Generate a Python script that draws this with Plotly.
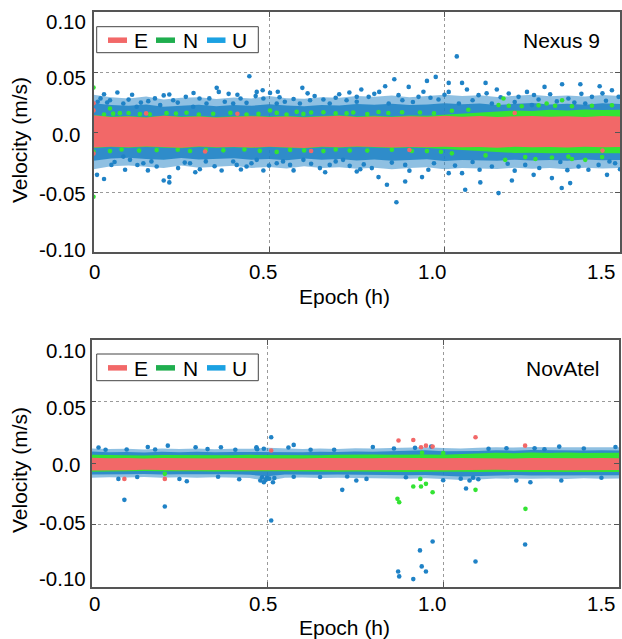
import plotly.graph_objects as go

# ---------------------------------------------------------------------------
# Velocity residuals (m/s) of the E / N / U components over a 1.5 h session.
# The dense core of every component is given as upper / lower envelopes
# sampled along the epoch axis (an inner, nearly saturated core and, for U,
# a sparser outer halo); scattered samples outside are listed individually
# as (epoch h, velocity m/s).
# ---------------------------------------------------------------------------

env_epoch = [0.0, 0.05, 0.1, 0.15, 0.2, 0.25, 0.3, 0.35, 0.4, 0.45, 0.5,
             0.55, 0.6, 0.65, 0.7, 0.75, 0.8, 0.85, 0.9, 0.95, 1.0,
             1.05, 1.1, 1.15, 1.2, 1.25, 1.3, 1.35, 1.4, 1.45, 1.5]

# ---- Nexus 9 --------------------------------------------------------------
nexus_E_hi = [0.014, 0.0125, 0.013, 0.012, 0.0135, 0.0125, 0.013, 0.012, 0.0128, 0.0132, 0.0125,
              0.013, 0.0122, 0.0128, 0.0135, 0.0126, 0.013, 0.0124, 0.0132, 0.0127, 0.0135,
              0.0128, 0.0133, 0.0126, 0.013, 0.0134, 0.0127, 0.0131, 0.0125, 0.0133, 0.013]
nexus_E_lo = [-0.013, -0.0122, -0.0128, -0.012, -0.0126, -0.0131, -0.0121, -0.0127, -0.0124, -0.013, -0.0122,
              -0.0127, -0.0133, -0.0123, -0.0128, -0.0121, -0.0126, -0.013, -0.0124, -0.0128, -0.0122,
              -0.0127, -0.0125, -0.0131, -0.0123, -0.0128, -0.0124, -0.013, -0.0122, -0.0127, -0.0125]
nexus_N_hi = [0.0142, 0.013, 0.0134, 0.0124, 0.0138, 0.0129, 0.0134, 0.0124, 0.0132, 0.0136, 0.013,
              0.0134, 0.0127, 0.0132, 0.0139, 0.013, 0.0135, 0.0129, 0.0138, 0.0135, 0.0145,
              0.015, 0.016, 0.017, 0.018, 0.0176, 0.0185, 0.018, 0.0188, 0.0183, 0.0186]
nexus_N_lo = [-0.0134, -0.0126, -0.0132, -0.0124, -0.013, -0.0135, -0.0125, -0.0131, -0.0128, -0.0134, -0.0126,
              -0.0131, -0.0137, -0.0127, -0.0132, -0.0125, -0.013, -0.0134, -0.0129, -0.0134, -0.014,
              -0.0148, -0.0158, -0.0166, -0.0175, -0.0172, -0.0178, -0.0174, -0.018, -0.0176, -0.0178]
nexus_U_hi = [0.024, 0.0225, 0.0218, 0.023, 0.021, 0.022, 0.0228, 0.0215, 0.0225, 0.0218, 0.0232,
              0.022, 0.0215, 0.0226, 0.022, 0.0234, 0.0228, 0.0236, 0.0224, 0.023, 0.024,
              0.0232, 0.0238, 0.0226, 0.0234, 0.0242, 0.023, 0.0236, 0.0228, 0.024, 0.0234]
nexus_U_lo = [-0.024, -0.022, -0.0215, -0.0226, -0.0232, -0.0216, -0.023, -0.0222, -0.0218, -0.0231, -0.0225,
              -0.0235, -0.022, -0.0232, -0.0226, -0.0237, -0.023, -0.024, -0.0233, -0.0227, -0.0241,
              -0.0233, -0.0235, -0.0239, -0.0231, -0.0237, -0.0233, -0.024, -0.023, -0.0235, -0.0233]
nexus_U_hi_halo = [0.031, 0.029, 0.028, 0.0295, 0.027, 0.0285, 0.029, 0.0275, 0.0288, 0.028, 0.03,
                   0.0282, 0.0278, 0.029, 0.0285, 0.03, 0.0294, 0.0305, 0.029, 0.0298, 0.031,
                   0.03, 0.0306, 0.0292, 0.0302, 0.031, 0.0298, 0.0304, 0.0295, 0.0308, 0.03]
nexus_U_lo_halo = [-0.031, -0.0285, -0.028, -0.029, -0.03, -0.028, -0.0298, -0.029, -0.0282, -0.03, -0.0292,
                   -0.0304, -0.0286, -0.03, -0.0294, -0.0306, -0.0298, -0.031, -0.03, -0.0294, -0.031,
                   -0.03, -0.0304, -0.0308, -0.0298, -0.0306, -0.03, -0.031, -0.0298, -0.0304, -0.03]

nexus_U_pts = [
    (0.444, 0.0464), (0.351, 0.0368), (0.357, 0.0334), (0.068, 0.0329), (0.216, 0.0312), (0.263, 0.0293),
    (0.302, 0.0279), (0.419, 0.0279), (0.465, 0.0334), (0.482, 0.0348), (0.462, 0.0299), (0.503, 0.0326),
    (0.595, 0.0368), (0.729, 0.0329), (0.655, 0.0271), (0.156, 0.0257), (0.039, 0.0246), (0.012, 0.0252),
    (0.085, 0.0238), (0.047, 0.0265), (0.123, 0.021), (0.19, 0.0224), (0.227, 0.0265), (0.284, 0.021),
    (0.322, 0.0238), (0.374, 0.0252), (0.398, 0.0238), (0.436, 0.0243), (0.484, 0.0279), (0.522, 0.0238),
    (0.545, 0.0252), (0.588, 0.0238), (0.617, 0.0265), (0.673, 0.0238), (0.721, 0.0265), (0.75, 0.0293),
    (1.035, 0.063), (0.975, 0.0459), (0.857, 0.044), (0.95, 0.0426), (0.831, 0.0381), (1.012, 0.0409),
    (1.05, 0.0409), (1.117, 0.0409), (1.335, 0.0398), (1.387, 0.0398), (1.442, 0.0381), (0.763, 0.0354),
    (0.814, 0.0334), (0.898, 0.0376), (1.012, 0.0334), (1.064, 0.0354), (1.149, 0.0354), (1.235, 0.0334),
    (1.285, 0.0376), (1.301, 0.0315), (1.477, 0.0348), (0.784, 0.0293), (0.869, 0.0307), (0.926, 0.0293),
    (0.983, 0.0271), (1.097, 0.0307), (1.183, 0.0321), (1.211, 0.0293), (1.268, 0.0271), (1.353, 0.0279),
    (1.42, 0.0293), (1.496, 0.0293), (0.75, 0.0252), (0.841, 0.0238), (1.041, 0.0238), (1.135, 0.0238),
    (1.249, 0.0224), (1.401, 0.0238), (0.02, 0.028), (0.1, 0.027), (0.135, 0.0245), (0.175, 0.028),
    (0.24, 0.0245), (0.33, 0.028), (0.41, 0.031), (0.53, 0.029), (0.57, 0.0275), (0.63, 0.03),
    (0.69, 0.0285), (0.88, 0.0265), (0.91, 0.025), (0.96, 0.0285), (1.08, 0.0265), (1.16, 0.029),
    (1.2, 0.025), (1.32, 0.0255), (1.37, 0.0245), (1.46, 0.026), (0.03, 0.0315), (0.11, 0.031),
    (0.2, 0.0305), (0.285, 0.0325), (0.385, 0.0318), (0.525, 0.0335), (0.61, 0.0322), (0.7, 0.0315),
    (0.8, 0.0318), (0.94, 0.0335), (1.0, 0.031), (1.12, 0.0322), (1.255, 0.0308), (1.39, 0.0318),
    (1.45, 0.0322),
    (0.01, -0.0357), (0.03, -0.0392), (0.051, -0.0274), (0.18, -0.0287), (0.2, -0.0404), (0.216, -0.042),
    (0.216, -0.0376), (0.241, -0.0301), (0.275, -0.026), (0.303, -0.031), (0.365, -0.0321), (0.408, -0.0274),
    (0.436, -0.0287), (0.465, -0.0232), (0.484, -0.0321), (0.522, -0.026), (0.56, -0.0274), (0.598, -0.0232),
    (0.645, -0.0301), (0.673, -0.0274), (0.711, -0.0232), (0.73, -0.0282), (0.104, -0.0232), (0.142, -0.026),
    (0.085, -0.0205), (0.398, -0.0246), (0.863, -0.0586), (1.154, -0.0509), (1.059, -0.0481), (0.836, -0.0439),
    (1.334, -0.0467), (1.358, -0.0426), (0.888, -0.0412), (0.812, -0.0376), (1.102, -0.042), (0.936, -0.0376),
    (1.012, -0.0343), (1.05, -0.0343), (1.254, -0.0357), (1.192, -0.0404), (1.306, -0.0384), (1.463, -0.0357),
    (0.75, -0.0329), (0.793, -0.0301), (0.888, -0.0274), (0.954, -0.0315), (1.135, -0.0287), (1.23, -0.0274),
    (1.382, -0.0287), (1.439, -0.0274), (1.486, -0.026), (0.06, -0.025), (0.125, -0.0275), (0.165, -0.0245),
    (0.26, -0.0255), (0.32, -0.0245), (0.345, -0.0285), (0.45, -0.026), (0.5, -0.028), (0.54, -0.0245),
    (0.62, -0.0265), (0.69, -0.0245), (0.77, -0.027), (0.85, -0.0255), (0.97, -0.026), (1.03, -0.028),
    (1.08, -0.025), (1.18, -0.0265), (1.27, -0.03), (1.33, -0.025), (1.41, -0.0315), (1.47, -0.0245),
    (0.09, -0.0315), (0.155, -0.032), (0.29, -0.0335), (0.42, -0.0312), (0.57, -0.032), (0.66, -0.0335),
    (0.76, -0.031), (0.9, -0.0322), (1.1, -0.0315), (1.2, -0.0322), (1.35, -0.0318), (1.5, -0.031),
]
nexus_N_pts = [
    (0.0, 0.037), (0.0, -0.054), (0.047, 0.0196), (0.056, 0.0153), (0.132, 0.0149), (0.208, 0.0157),
    (0.265, 0.0161), (0.341, 0.0152), (0.436, 0.0146), (0.503, 0.0179), (0.522, 0.0159), (0.579, 0.0168),
    (0.598, 0.0151), (0.655, 0.0165), (0.721, 0.0155), (0.74, 0.0163), (0.0, -0.0162), (0.047, -0.0159),
    (0.18, -0.0151), (0.275, -0.0158), (0.474, -0.0157), (0.522, -0.0166), (0.56, -0.0149), (0.655, -0.0159),
    (0.73, -0.0154), (1.168, 0.0279), (1.154, 0.0224), (1.291, 0.0238), (1.335, 0.0265), (1.183, 0.0219),
    (1.22, 0.0215), (1.268, 0.0222), (1.315, 0.0219), (1.363, 0.0215), (1.42, 0.0219), (1.477, 0.0222),
    (1.021, 0.0177), (1.068, 0.0185), (0.879, 0.0165), (0.812, 0.0167), (1.173, -0.0232), (1.401, -0.0232),
    (1.23, -0.0209), (1.306, -0.0213), (1.353, -0.0205), (1.449, -0.0209), (1.117, -0.0195), (1.021, -0.0178),
    (0.907, -0.0158), (1.259, -0.0225), (1.363, -0.0225), (0.1, 0.0158), (0.37, -0.0153), (0.62, 0.0162),
    (0.03, 0.0145), (0.075, 0.0157), (0.16, 0.0148), (0.235, 0.0154), (0.3, 0.0146), (0.39, 0.0159),
    (0.47, 0.0151), (0.55, 0.0145), (0.69, 0.0156), (0.78, 0.0149), (0.84, 0.0158), (0.93, 0.0163),
    (0.97, 0.0156), (0.08, -0.0146), (0.13, -0.0155), (0.24, -0.0147), (0.32, -0.0151), (0.43, -0.0146),
    (0.6, -0.0154), (0.69, -0.0146), (0.78, -0.0155), (0.85, -0.0147), (0.95, -0.0159), (0.99, -0.0164),
]
nexus_E_pts = [
    (0.0, 0.024), (0.0, 0.018), (0.0, -0.018), (0.318, -0.0163), (0.15, 0.0155), (0.62, -0.0158),
    (1.45, -0.0155), (1.2, 0.0158), (0.9, -0.015), (0.41, 0.0152),
]

# ---- NovAtel --------------------------------------------------------------
novatel_E_hi = [0.0045, 0.004, 0.0042, 0.0038, 0.0043, 0.004, 0.0041, 0.0039, 0.0042, 0.004, 0.0044,
                0.0041, 0.0039, 0.0042, 0.004, 0.0043, 0.0041, 0.0045, 0.0042, 0.0044, 0.0041,
                0.0043, 0.004, 0.0042, 0.0039, 0.0043, 0.0041, 0.0044, 0.004, 0.0042, 0.0041]
novatel_E_lo = [-0.0058, -0.0054, -0.0056, -0.0052, -0.0055, -0.0057, -0.0053, -0.0056, -0.0054, -0.0057, -0.0055,
                -0.0053, -0.0056, -0.0054, -0.0057, -0.0055, -0.0058, -0.0054, -0.0056, -0.0055, -0.0057,
                -0.0054, -0.0056, -0.0053, -0.0055, -0.0057, -0.0054, -0.0056, -0.0055, -0.0057, -0.0055]
novatel_N_hi = [0.0068, 0.0064, 0.0066, 0.0062, 0.0067, 0.0065, 0.0063, 0.0066, 0.0064, 0.0068, 0.0066,
                0.0065, 0.0067, 0.0064, 0.0068, 0.0066, 0.007, 0.0068, 0.0072, 0.007, 0.0068,
                0.0075, 0.008, 0.0085, 0.0082, 0.0088, 0.0084, 0.0087, 0.0083, 0.0086, 0.0085]
novatel_N_lo = [-0.0068, -0.0064, -0.0066, -0.0063, -0.0065, -0.0067, -0.0064, -0.0066, -0.0063, -0.0067, -0.0065,
                -0.0064, -0.0066, -0.0065, -0.0068, -0.0066, -0.0069, -0.0067, -0.007, -0.0068, -0.0066,
                -0.0068, -0.007, -0.0072, -0.0069, -0.0071, -0.007, -0.0072, -0.0069, -0.0071, -0.007]
novatel_U_hi = [0.0095, 0.009, 0.0092, 0.0088, 0.0093, 0.009, 0.0094, 0.0089, 0.0092, 0.0091, 0.0096,
                0.0092, 0.009, 0.0094, 0.0091, 0.0095, 0.0093, 0.0098, 0.0102, 0.0105, 0.0098,
                0.0096, 0.01, 0.0105, 0.0102, 0.0107, 0.0104, 0.0106, 0.0103, 0.0105, 0.0104]
novatel_U_lo = [-0.0092, -0.0088, -0.009, -0.0087, -0.0091, -0.0089, -0.0092, -0.0088, -0.009, -0.0094, -0.0105,
                -0.0092, -0.009, -0.0093, -0.0091, -0.0094, -0.0092, -0.0096, -0.0098, -0.0095, -0.0102,
                -0.0108, -0.0106, -0.0098, -0.0096, -0.0099, -0.0097, -0.01, -0.0096, -0.0098, -0.0097]
novatel_U_hi_halo = [0.012, 0.0115, 0.0118, 0.0112, 0.0119, 0.0115, 0.012, 0.0114, 0.0118, 0.0117, 0.0125,
                     0.0118, 0.0115, 0.012, 0.0116, 0.0121, 0.0119, 0.0124, 0.0128, 0.013, 0.0124,
                     0.012, 0.0125, 0.013, 0.0127, 0.0132, 0.0129, 0.0131, 0.0128, 0.013, 0.0129]
novatel_U_lo_halo = [-0.0118, -0.0113, -0.0116, -0.0112, -0.0117, -0.0114, -0.0118, -0.0113, -0.0116, -0.012, -0.0145,
                     -0.0118, -0.0115, -0.0119, -0.0117, -0.012, -0.0118, -0.0122, -0.0125, -0.0121, -0.0128,
                     -0.0135, -0.0132, -0.0124, -0.0122, -0.0126, -0.0123, -0.0127, -0.0122, -0.0125, -0.0123]

novatel_U_pts = [
    (0.0935, -0.0297), (0.2085, -0.0351), (0.511, 0.0211), (0.511, -0.0465), (0.217, 0.0143), (0.296, 0.013),
    (0.368, 0.013), (0.469, 0.013), (0.575, 0.0149), (0.713, -0.0216), (0.753, -0.014), (0.0765, -0.0127),
    (0.271, -0.0146), (0.48, -0.014), (0.49, -0.0154), (0.516, -0.0154), (0.485, -0.0113), (0.499, -0.0118),
    (0.575, -0.011), (0.727, -0.0108), (0.623, 0.0109), (0.471, 0.0113), (0.181, 0.0112), (0.409, 0.0109),
    (0.505, -0.0125), (0.495, -0.0135), (0.52, -0.012), (0.47, 0.012), (0.49, 0.0118), (0.04, 0.011),
    (0.13, -0.0112), (0.33, 0.0115), (0.36, -0.011), (0.65, -0.0112), (0.69, 0.011), (0.1, 0.0112),
    (0.970, -0.0635), (0.934, -0.0707), (1.092, -0.0797), (1.233, -0.0659), (0.872, -0.0878), (0.875, -0.0918),
    (0.915, -0.094), (0.939, -0.0837), (0.951, -0.0878), (1.065, -0.0205), (0.782, -0.0127), (1.248, -0.0154),
    (1.336, -0.014), (1.208, -0.014), (1.075, -0.014), (0.894, -0.0113), (1.26, 0.0122), (1.288, 0.0113),
    (1.129, 0.0117), (0.966, 0.0135), (1.05, -0.0125), (1.1, -0.013), (1.085, -0.0118), (0.92, 0.0125),
    (0.86, 0.012), (1.4, 0.012), (1.45, -0.0118), (1.18, 0.0122), (0.02, 0.0128), (0.16, 0.0132),
    (0.25, -0.0128), (0.42, -0.013), (0.56, 0.0128), (0.8, 0.0132), (1.0, -0.0138), (1.33, 0.0135),
    (1.49, 0.0132),
]
novatel_N_pts = [
    (0.2085, -0.0086), (0.87, -0.0289), (0.875, -0.0316), (0.915, -0.0189), (0.937, -0.0189), (0.951, -0.0167),
    (0.935, -0.0127), (0.970, -0.0235), (1.092, -0.0216), (1.234, -0.037), (0.94, 0.0085), (1.0, 0.0082),
]
novatel_E_pts = [
    (0.0935, -0.0127), (0.2085, -0.0127), (0.511, 0.0103), (0.873, 0.0184), (0.915, 0.0189), (0.937, 0.013),
    (0.951, 0.0143), (0.970, 0.0135), (1.092, 0.0211), (1.233, 0.0143),
]

components = ["E", "N", "U"]
dot_color = {"E": "#F26868", "N": "#33E333", "U": "#1F82C6"}
core_fill = {"E": "#F26868", "N": "#33E333", "U": "rgba(31,130,198,0.85)"}
halo_fill = "rgba(31,130,198,0.5)"
key_color = {"E": "#F26868", "N": "#1FAE4E", "U": "#1BA1E2"}

tick_x = [0, 0.5, 1.0, 1.5]
tick_x_text = ["0", "0.5", "1.0", "1.5"]
tick_y = [-0.10, -0.05, 0.0, 0.05, 0.10]
tick_y_text = ["-0.10", "-0.05", "0.0", "0.05", "0.10"]

panels = [
    {
        "name": "Nexus 9",
        "bands": {"E": (nexus_E_hi, nexus_E_lo), "N": (nexus_N_hi, nexus_N_lo), "U": (nexus_U_hi, nexus_U_lo)},
        "halo": (nexus_U_hi_halo, nexus_U_lo_halo),
        "dots": {"E": nexus_E_pts, "N": nexus_N_pts, "U": nexus_U_pts},
    },
    {
        "name": "NovAtel",
        "bands": {"E": (novatel_E_hi, novatel_E_lo), "N": (novatel_N_hi, novatel_N_lo), "U": (novatel_U_hi, novatel_U_lo)},
        "halo": (novatel_U_hi_halo, novatel_U_lo_halo),
        "dots": {"E": novatel_E_pts, "N": novatel_N_pts, "U": novatel_U_pts},
    },
]

W, H = 622, 639
FONT = "Liberation Sans, Arial, Helvetica, sans-serif"

# plot-area frames in pixels: (left, right, top, bottom)
frames = [(93.5, 620.0, 12.0, 252.0), (91.5, 619.0, 340.0, 586.5)]
# key box (left, top, right, bottom) and its dash / text x-positions
key_boxes = [(96.7, 26.7, 258.3, 52.7), (96.7, 354.0, 258.3, 380.7)]
key_dash_x = [(108.0, 127.0), (156.0, 175.0), (207.0, 225.5)]
key_text_cx = [141.0, 190.0, 240.0]
name_pos = [(561.0, 40.0), (562.5, 368.0)]
xlabel_y = [271.7, 603.3]
xlabel_cx = [94.3, 263.0, 432.7, 601.7]
ylabel_cx = [62.5, 62.5, 66.0, 66.0, 66.0]
ylabel_cy = [[249.3, 193.3, 135.0, 78.0, 21.7], [578.3, 522.7, 464.0, 407.3, 350.0]]
xtitle_pos = [(344.0, 296.0), (344.0, 627.0)]
ytitle_pos = [(19.0, 140.0), (19.0, 470.0)]


def band_polygon(hi, lo):
    return env_epoch + env_epoch[::-1], hi + lo[::-1]


def px(x):
    return x / W


def py(y):
    return 1 - y / H


fig = go.Figure()
annotations = []
shapes = []
layout_axes = {}

for k, panel in enumerate(panels):
    xa = "x" if k == 0 else "x2"
    ya = "y" if k == 0 else "y2"

    # sparse halo of U behind everything
    hx, hy = band_polygon(*panel["halo"])
    fig.add_trace(go.Scatter(
        x=hx, y=hy, mode="lines", fill="toself", fillcolor=halo_fill,
        line=dict(width=0, color=halo_fill), hoverinfo="skip",
        showlegend=False, xaxis=xa, yaxis=ya,
    ))

    # U drawn first, E on top
    for comp in ["U", "N", "E"]:
        bx, by = band_polygon(*panel["bands"][comp])
        fig.add_trace(go.Scatter(
            x=bx, y=by, mode="lines", fill="toself", fillcolor=core_fill[comp],
            line=dict(width=0, color=dot_color[comp]), name=comp,
            hoverinfo="skip", showlegend=False, xaxis=xa, yaxis=ya,
        ))
        pts = panel["dots"][comp]
        fig.add_trace(go.Scatter(
            x=[p[0] for p in pts], y=[p[1] for p in pts], name=comp,
            mode="markers", marker=dict(size=4.6, color=dot_color[comp], line=dict(width=0)),
            showlegend=False, xaxis=xa, yaxis=ya,
        ))

    l, r, t, b = frames[k]
    axis_common = dict(
        showline=True, linecolor="#555555", linewidth=1.5, mirror="ticks",
        ticks="inside", ticklen=5, tickcolor="#555555", tickwidth=1,
        showgrid=True, gridcolor="#9a9a9a", griddash="dot", gridwidth=1,
        zeroline=False, showticklabels=False,
    )
    layout_axes["xaxis" if k == 0 else "xaxis2"] = dict(
        axis_common, range=[0, 1.5], tickvals=tick_x,
        domain=[l / W, r / W], anchor=ya,
    )
    layout_axes["yaxis" if k == 0 else "yaxis2"] = dict(
        axis_common, range=[-0.10, 0.10], tickvals=tick_y,
        domain=[1 - b / H, 1 - t / H], anchor=xa,
    )

    # component key
    bl, bt, br, bb = key_boxes[k]
    shapes.append(dict(
        type="rect", xref="paper", yref="paper",
        x0=px(bl), x1=px(br), y0=py(bb), y1=py(bt),
        line=dict(color="#444444", width=1), fillcolor="white", layer="above",
    ))
    cy = (bt + bb) / 2
    for comp, (d0, d1), tcx in zip(components, key_dash_x, key_text_cx):
        shapes.append(dict(
            type="line", xref="paper", yref="paper",
            x0=px(d0), x1=px(d1), y0=py(cy + 0.5), y1=py(cy + 0.5),
            line=dict(color=key_color[comp], width=5.5), layer="above",
        ))
        annotations.append(dict(
            text=comp, x=px(tcx), y=py(cy + 1), xref="paper", yref="paper",
            xanchor="center", yanchor="middle", showarrow=False,
            font=dict(family=FONT, size=21, color="black"),
        ))

    # tick labels
    for txt, cx in zip(tick_x_text, xlabel_cx):
        annotations.append(dict(
            text=txt, x=px(cx), y=py(xlabel_y[k]), xref="paper", yref="paper",
            xanchor="center", yanchor="middle", showarrow=False,
            font=dict(family=FONT, size=20.5, color="black"),
        ))
    for txt, cx, cyl in zip(tick_y_text, ylabel_cx, ylabel_cy[k]):
        annotations.append(dict(
            text=txt, x=px(cx), y=py(cyl), xref="paper", yref="paper",
            xanchor="center", yanchor="middle", showarrow=False,
            font=dict(family=FONT, size=20.5, color="black"),
        ))

    # axis titles
    tx, ty = xtitle_pos[k]
    annotations.append(dict(
        text="Epoch (h)", x=px(tx), y=py(ty), xref="paper", yref="paper",
        xanchor="center", yanchor="middle", showarrow=False,
        font=dict(family=FONT, size=21, color="black"),
    ))
    vx, vy = ytitle_pos[k]
    annotations.append(dict(
        text="Velocity (m/s)", x=px(vx), y=py(vy), xref="paper", yref="paper",
        xanchor="center", yanchor="middle", showarrow=False, textangle=-90,
        font=dict(family=FONT, size=21, color="black"),
    ))

    # receiver name
    nx, ny = name_pos[k]
    annotations.append(dict(
        text=panel["name"], x=px(nx), y=py(ny), xref="paper", yref="paper",
        xanchor="center", yanchor="middle", showarrow=False,
        font=dict(family=FONT, size=21, color="black"),
    ))

fig.update_layout(
    width=W, height=H, margin=dict(l=0, r=0, t=0, b=0),
    paper_bgcolor="white", plot_bgcolor="white", showlegend=False,
    font=dict(family=FONT, size=20, color="black"),
    annotations=annotations, shapes=shapes, **layout_axes,
)

fig.write_html("out.html")
